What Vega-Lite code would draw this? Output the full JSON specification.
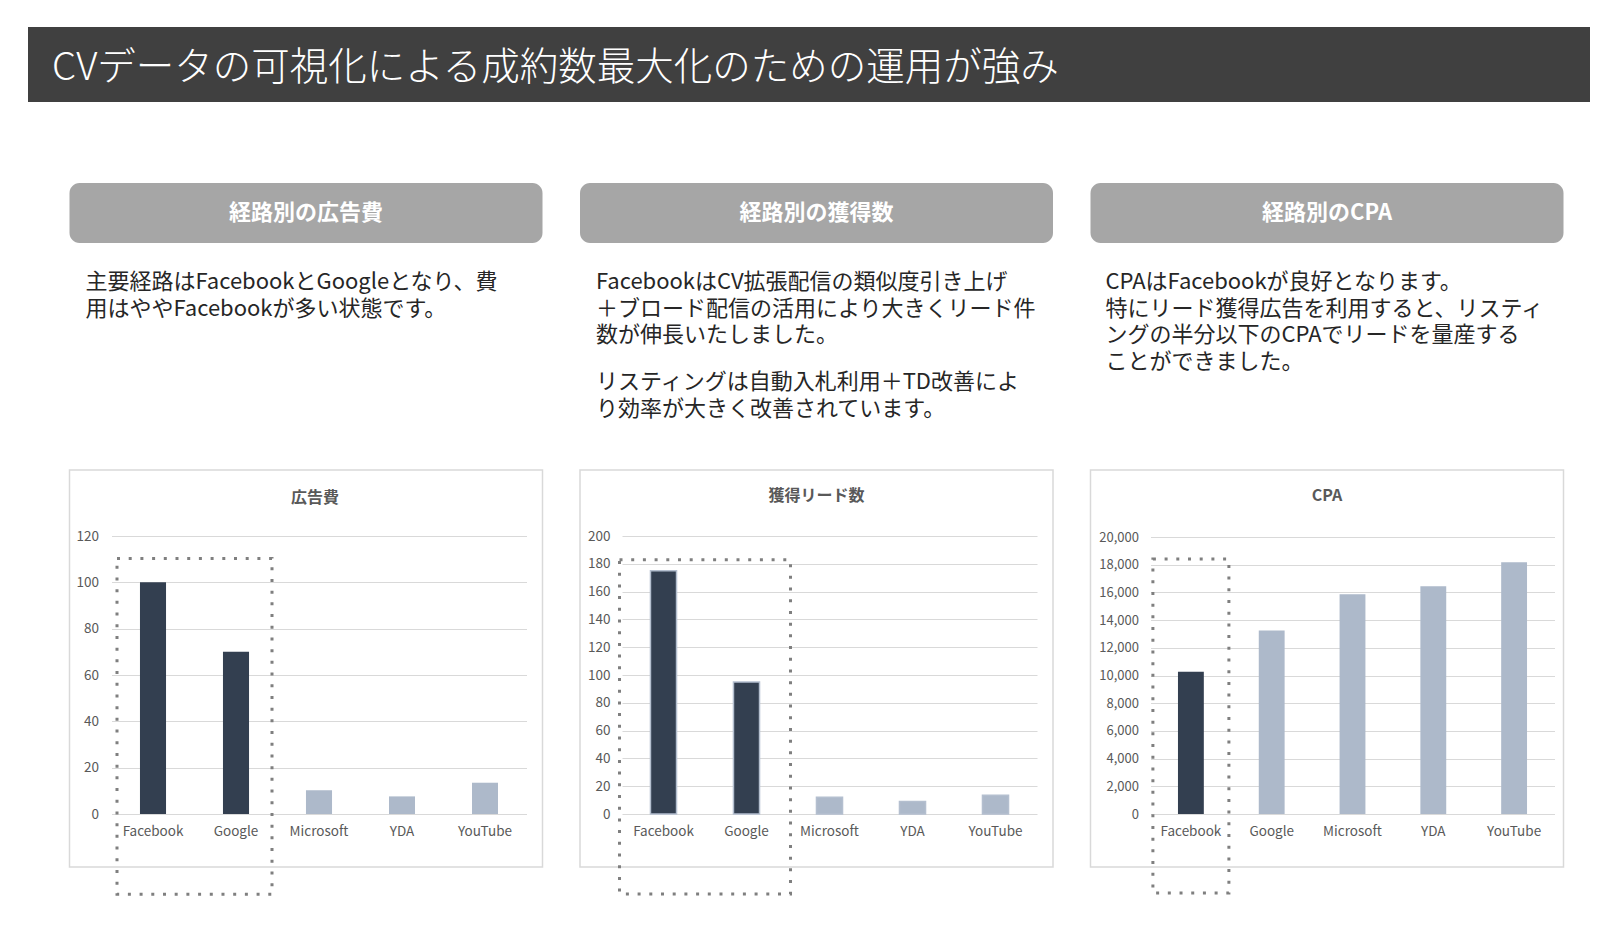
{
  "$schema": "https://vega.github.io/schema/vega-lite/v6.json",
  "background": "#ffffff",
  "padding": {"left": 28, "top": 27, "right": 0, "bottom": 0},
  "config": {
    "font": "Noto Sans CJK JP",
    "view": {"stroke": null}
  },
  "spacing": 80,
  "vconcat": [
    {
      "width": 1562,
      "height": 75,
      "view": {"fill": "#404040", "stroke": null},
      "data": {"values": [{"t": "CVデータの可視化による成約数最大化のための運用が強み"}]},
      "mark": {"type": "text", "align": "left", "baseline": "middle", "dx": 24, "dy": 3, "fontSize": 38.5, "fontWeight": 300, "color": "#ffffff"},
      "encoding": {
        "x": {"datum": 0, "type": "quantitative", "scale": {"domain": [0, 1]}, "axis": null},
        "text": {"field": "t"}
      }
    },
    {
      "spacing": 35.5,
      "hconcat": [
        {
          "width": 4.5,
          "height": 10,
          "data": {"values": [{}]},
          "mark": {"type": "text", "text": ""}
        },
        {
          "spacing": 0,
          "vconcat": [
            {
              "width": 473,
              "height": 60,
              "view": {"fill": "#a6a6a6", "stroke": null, "cornerRadius": 10},
              "data": {"values": [{"t": "経路別の広告費"}]},
              "mark": {"type": "text", "fontSize": 22, "fontWeight": "bold", "color": "#ffffff"},
              "encoding": {"text": {"field": "t"}}
            },
            {
              "width": 473,
              "height": 226,
              "data": {"values": [{"t": "主要経路はFacebookとGoogleとなり、費\n用はややFacebookが多い状態です。"}]},
              "mark": {"type": "text", "align": "left", "baseline": "top", "dx": 16, "dy": 29, "fontSize": 22, "lineHeight": 26.7, "lineBreak": "\n", "color": "#262626"},
              "encoding": {
                "x": {"datum": 0, "type": "quantitative", "scale": {"domain": [0, 1]}, "axis": null},
                "y": {"datum": 1, "type": "quantitative", "scale": {"domain": [0, 1]}, "axis": null},
                "text": {"field": "t"}
              }
            },
            {
              "width": 473,
              "height": 397,
              "view": {"stroke": "#d9d9d9", "strokeWidth": 1.5, "fill": "#ffffff"},
              "title": {"text": "広告費", "offset": -44, "baseline": "middle", "fontSize": 16, "fontWeight": "bold", "color": "#595959", "dx": 9},
              "resolve": {"axis": {"x": "independent", "y": "independent"}},
              "layer": [
                {
                  "data": {"values": [
                    {"ch": "Facebook", "v": 100, "g": "主要"},
                    {"ch": "Google", "v": 70, "g": "主要"},
                    {"ch": "Microsoft", "v": 10.2, "g": "その他"},
                    {"ch": "YDA", "v": 7.6, "g": "その他"},
                    {"ch": "YouTube", "v": 13.5, "g": "その他"}
                  ]},
                  "mark": {"type": "bar"},
                  "encoding": {
                    "x": {"field": "ch", "type": "nominal", "sort": null,
                      "scale": {"type": "band", "range": [42, 457], "paddingInner": 0.686, "paddingOuter": 0.343},
                      "axis": {"orient": "bottom", "offset": -53, "labelPadding": 10, "labelFontSize": 13.5, "labelColor": "#595959", "labelAngle": 0, "ticks": false, "domain": false, "grid": false, "title": null}},
                    "y": {"field": "v", "type": "quantitative",
                      "scale": {"domain": [0, 120], "range": [344, 66], "nice": false},
                      "axis": {"values": [0, 20, 40, 60, 80, 100, 120], "format": ",.0f", "offset": -35, "labelPadding": 6, "labelFontSize": 13.5, "labelColor": "#595959", "labelOverlap": false, "ticks": false, "domain": false, "grid": true, "gridColor": "#d9d9d9", "gridWidth": 1.2, "title": null}},
                    "color": {"field": "g", "type": "nominal", "scale": {"domain": ["主要", "その他"], "range": ["#333f50", "#adb9ca"]}, "legend": null}
                  }
                },
                {
                  "data": {"values": [{}]},
                  "mark": {"type": "rect", "fillOpacity": 0, "stroke": "#7f7f7f", "strokeWidth": 3, "strokeDash": [3, 8.7], "xOffset": -36, "x2Offset": 36},
                  "encoding": {
                    "x": {"datum": "Facebook", "bandPosition": 0.5, "axis": null},
                    "x2": {"datum": "Google", "bandPosition": 0.5},
                    "y": {"datum": 110.3, "axis": null},
                    "y2": {"datum": -34.6}
                  }
                }
              ]
            }
          ]
        },
        {
          "spacing": 0,
          "vconcat": [
            {
              "width": 473,
              "height": 60,
              "view": {"fill": "#a6a6a6", "stroke": null, "cornerRadius": 10},
              "data": {"values": [{"t": "経路別の獲得数"}]},
              "mark": {"type": "text", "fontSize": 22, "fontWeight": "bold", "color": "#ffffff"},
              "encoding": {"text": {"field": "t"}}
            },
            {
              "width": 473,
              "height": 226,
              "data": {"values": [
                {"p": 1, "t": "FacebookはCV拡張配信の類似度引き上げ\n＋ブロード配信の活用により大きくリード件\n数が伸長いたしました。"},
                {"p": 2, "t": "リスティングは自動入札利用＋TD改善によ\nり効率が大きく改善されています。"}
              ]},
              "encoding": {
                "x": {"datum": 0, "type": "quantitative", "scale": {"domain": [0, 1]}, "axis": null},
                "y": {"datum": 1, "type": "quantitative", "scale": {"domain": [0, 1]}, "axis": null},
                "text": {"field": "t"}
              },
              "layer": [
                {
                  "transform": [{"filter": "datum.p == 1"}],
                  "mark": {"type": "text", "align": "left", "baseline": "top", "dx": 16, "dy": 29, "fontSize": 22, "lineHeight": 26.7, "lineBreak": "\n", "color": "#262626"}
                },
                {
                  "transform": [{"filter": "datum.p == 2"}],
                  "mark": {"type": "text", "align": "left", "baseline": "top", "dx": 16, "dy": 129, "fontSize": 22, "lineHeight": 26.7, "lineBreak": "\n", "color": "#262626"}
                }
              ]
            },
            {
              "width": 473,
              "height": 397,
              "view": {"stroke": "#d9d9d9", "strokeWidth": 1.5, "fill": "#ffffff"},
              "title": {"text": "獲得リード数", "offset": -42, "baseline": "middle", "fontSize": 16, "fontWeight": "bold", "color": "#595959"},
              "resolve": {"axis": {"x": "independent", "y": "independent"}},
              "layer": [
                {
                  "data": {"values": [
                    {"ch": "Facebook", "v": 175, "g": "主要"},
                    {"ch": "Google", "v": 95, "g": "主要"},
                    {"ch": "Microsoft", "v": 12, "g": "その他"},
                    {"ch": "YDA", "v": 9, "g": "その他"},
                    {"ch": "YouTube", "v": 13.4, "g": "その他"}
                  ]},
                  "mark": {"type": "bar", "stroke": "#b4bfcf", "strokeWidth": 1.5},
                  "encoding": {
                    "x": {"field": "ch", "type": "nominal", "sort": null,
                      "scale": {"type": "band", "range": [42, 457], "paddingInner": 0.686, "paddingOuter": 0.343},
                      "axis": {"orient": "bottom", "offset": -53, "labelPadding": 10, "labelFontSize": 13.5, "labelColor": "#595959", "labelAngle": 0, "ticks": false, "domain": false, "grid": false, "title": null}},
                    "y": {"field": "v", "type": "quantitative",
                      "scale": {"domain": [0, 200], "range": [344, 66], "nice": false},
                      "axis": {"values": [0, 20, 40, 60, 80, 100, 120, 140, 160, 180, 200], "format": ",.0f", "offset": -36, "labelPadding": 6, "labelFontSize": 13.5, "labelColor": "#595959", "labelOverlap": false, "ticks": false, "domain": false, "grid": true, "gridColor": "#d9d9d9", "gridWidth": 1.2, "title": null}},
                    "color": {"field": "g", "type": "nominal", "scale": {"domain": ["主要", "その他"], "range": ["#333f50", "#adb9ca"]}, "legend": null}
                  }
                },
                {
                  "data": {"values": [{}]},
                  "mark": {"type": "rect", "fillOpacity": 0, "stroke": "#7f7f7f", "strokeWidth": 3, "strokeDash": [3, 8.7], "xOffset": -44, "x2Offset": 44},
                  "encoding": {
                    "x": {"datum": "Facebook", "bandPosition": 0.5, "axis": null},
                    "x2": {"datum": "Google", "bandPosition": 0.5},
                    "y": {"datum": 183, "axis": null},
                    "y2": {"datum": -57.5}
                  }
                }
              ]
            }
          ]
        },
        {
          "spacing": 0,
          "vconcat": [
            {
              "width": 473,
              "height": 60,
              "view": {"fill": "#a6a6a6", "stroke": null, "cornerRadius": 10},
              "data": {"values": [{"t": "経路別のCPA"}]},
              "mark": {"type": "text", "fontSize": 22, "fontWeight": "bold", "color": "#ffffff"},
              "encoding": {"text": {"field": "t"}}
            },
            {
              "width": 473,
              "height": 226,
              "data": {"values": [{"t": "CPAはFacebookが良好となります。\n特にリード獲得広告を利用すると、リスティ\nングの半分以下のCPAでリードを量産する\nことができました。"}]},
              "mark": {"type": "text", "align": "left", "baseline": "top", "dx": 15, "dy": 29, "fontSize": 22, "lineHeight": 26.7, "lineBreak": "\n", "color": "#262626"},
              "encoding": {
                "x": {"datum": 0, "type": "quantitative", "scale": {"domain": [0, 1]}, "axis": null},
                "y": {"datum": 1, "type": "quantitative", "scale": {"domain": [0, 1]}, "axis": null},
                "text": {"field": "t"}
              }
            },
            {
              "width": 473,
              "height": 397,
              "view": {"stroke": "#d9d9d9", "strokeWidth": 1.5, "fill": "#ffffff"},
              "title": {"text": "CPA", "offset": -42, "baseline": "middle", "fontSize": 16, "fontWeight": "bold", "color": "#595959"},
              "resolve": {"axis": {"x": "independent", "y": "independent"}},
              "layer": [
                {
                  "data": {"values": [
                    {"ch": "Facebook", "v": 10270, "g": "主要"},
                    {"ch": "Google", "v": 13250, "g": "その他"},
                    {"ch": "Microsoft", "v": 15860, "g": "その他"},
                    {"ch": "YDA", "v": 16450, "g": "その他"},
                    {"ch": "YouTube", "v": 18170, "g": "その他"}
                  ]},
                  "mark": {"type": "bar"},
                  "encoding": {
                    "x": {"field": "ch", "type": "nominal", "sort": null,
                      "scale": {"type": "band", "range": [60, 464], "paddingInner": 0.68, "paddingOuter": 0.34},
                      "axis": {"orient": "bottom", "offset": -53, "labelPadding": 10, "labelFontSize": 13.5, "labelColor": "#595959", "labelAngle": 0, "ticks": false, "domain": false, "grid": false, "title": null}},
                    "y": {"field": "v", "type": "quantitative",
                      "scale": {"domain": [0, 20000], "range": [344, 67], "nice": false},
                      "axis": {"values": [0, 2000, 4000, 6000, 8000, 10000, 12000, 14000, 16000, 18000, 20000], "format": ",.0f", "offset": -54, "labelPadding": 6, "labelFontSize": 13, "labelColor": "#595959", "labelOverlap": false, "ticks": false, "domain": false, "grid": true, "gridColor": "#d9d9d9", "gridWidth": 1.2, "title": null}},
                    "color": {"field": "g", "type": "nominal", "scale": {"domain": ["主要", "その他"], "range": ["#333f50", "#adb9ca"]}, "legend": null}
                  }
                },
                {
                  "data": {"values": [{}]},
                  "mark": {"type": "rect", "fillOpacity": 0, "stroke": "#7f7f7f", "strokeWidth": 3, "strokeDash": [3, 8.7], "xOffset": -38, "x2Offset": 38},
                  "encoding": {
                    "x": {"datum": "Facebook", "bandPosition": 0.5, "axis": null},
                    "x2": {"datum": "Facebook", "bandPosition": 0.5},
                    "y": {"datum": 18410, "axis": null},
                    "y2": {"datum": -5700}
                  }
                }
              ]
            }
          ]
        }
      ]
    }
  ]
}
